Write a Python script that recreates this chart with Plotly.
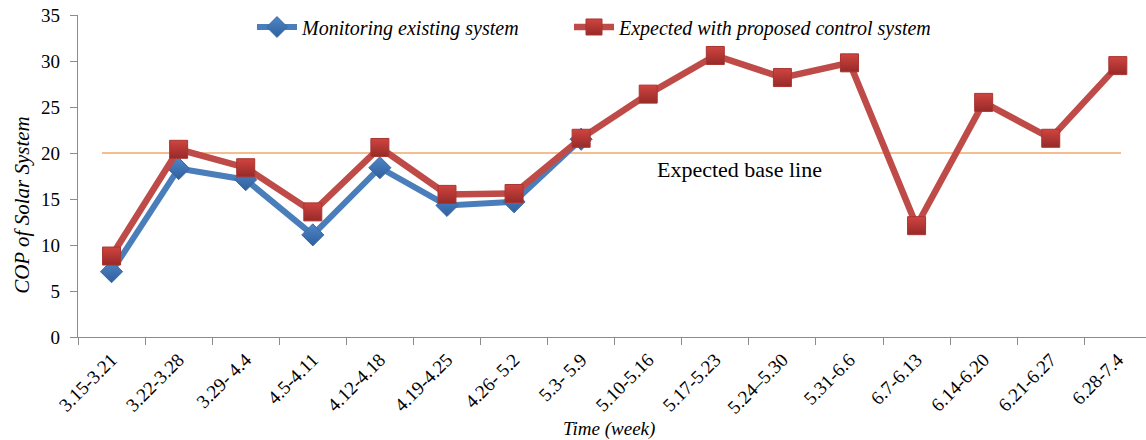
import plotly.graph_objects as go

# Weekly periods on the x axis
weeks = ["3.15-3.21", "3.22-3.28", "3.29- 4.4", "4.5-4.11", "4.12-4.18", "4.19-4.25",
         "4.26- 5.2", "5.3- 5.9", "5.10-5.16", "5.17-5.23", "5.24\u20135.30", "5.31-6.6",
         "6.7-6.13", "6.14-6.20", "6.21-6.27", "6.28-7.4"]

# COP of the existing system (monitored for the first eight weeks)
cop_existing = [7.1, 18.3, 17.1, 11.1, 18.4, 14.3, 14.7, 21.5]

# COP expected with the proposed control system
cop_proposed = [8.8, 20.4, 18.4, 13.6, 20.6, 15.5, 15.6, 21.6,
                26.4, 30.6, 28.2, 29.8, 12.1, 25.5, 21.6, 29.5]

base_line = 20

FONT = "Liberation Serif"
BLUE = "#4A7EBB"
RED = "#BE4B48"

PLOT_L, PLOT_R = 78, 1146
PLOT_T, PLOT_B = 15, 337.3


def px_x(px):
    return (px - PLOT_L) / (PLOT_R - PLOT_L)


def px_y(py):
    return (PLOT_B - py) / (PLOT_B - PLOT_T)


fig = go.Figure()

fig.add_trace(go.Scatter(
    x=weeks[:len(cop_existing)], y=cop_existing,
    name="Monitoring existing system",
    mode="lines+markers",
    line=dict(color=BLUE, width=6),
    marker=dict(symbol="diamond", size=17, color="#4F86C6",
                line=dict(color="#3A6AA8", width=1),
                gradient=dict(type="vertical", color="#2F5F9E")),
    legend="legend",
))

fig.add_trace(go.Scatter(
    x=weeks, y=cop_proposed,
    name="Expected with proposed control system",
    mode="lines+markers",
    line=dict(color=RED, width=6.5),
    marker=dict(symbol="square", size=18, color="#D04440",
                line=dict(color="#A83532", width=1),
                gradient=dict(type="vertical", color="#962A28")),
    legend="legend2",
))

# Expected base line across the plot
fig.add_shape(type="line", xref="paper", yref="y",
              x0=px_x(102), x1=px_x(1121), y0=base_line, y1=base_line,
              line=dict(color="#F6BE8E", width=2), layer="below")

fig.add_annotation(text="Expected base line", xref="paper", yref="y",
                   x=px_x(739), y=18.2, xanchor="center", showarrow=False,
                   font=dict(family=FONT, size=22, color="#000000"))

# Axis titles
fig.add_annotation(text="<i>Time (week)</i>", xref="paper", yref="paper",
                   x=px_x(609), y=0, yshift=-79, xanchor="center",
                   showarrow=False, yanchor="top",
                   font=dict(family=FONT, size=19, color="#000000"))
fig.add_annotation(text="<i>COP of Solar System</i>", xref="paper", yref="paper",
                   x=px_x(22), y=px_y(205), textangle=-90,
                   xanchor="center", yanchor="middle", showarrow=False,
                   font=dict(family=FONT, size=21, color="#000000"))

fig.update_xaxes(
    type="category", range=[-0.5, 15.42],
    showline=True, linecolor="#8C8C8C", linewidth=1.3,
    ticks="outside", ticklen=7, tickcolor="#8C8C8C", tickson="boundaries",
    ticklabelstandoff=3,
    tickangle=-45, showgrid=False, zeroline=False,
    tickfont=dict(family=FONT, size=19, color="#000000"),
)
fig.update_yaxes(
    range=[0, 35], dtick=5,
    showline=True, linecolor="#8C8C8C", linewidth=1.3,
    ticks="outside", ticklen=7, tickcolor="#8C8C8C", ticklabelstandoff=6,
    showgrid=False, zeroline=False,
    tickfont=dict(family=FONT, size=19, color="#000000"),
)

legend_style = dict(orientation="h", xanchor="left", yanchor="middle",
                    itemwidth=40, bgcolor="rgba(0,0,0,0)",
                    font=dict(family=FONT, size=20, color="#000000", style="italic"))

fig.update_layout(
    width=1146, height=440,
    margin=dict(l=PLOT_L, r=0, t=PLOT_T, b=440 - PLOT_B),
    plot_bgcolor="white", paper_bgcolor="white",
    font=dict(family=FONT),
    showlegend=True,
    legend=dict(x=px_x(252), y=px_y(27), **legend_style),
    legend2=dict(x=px_x(569), y=px_y(27), **legend_style),
)

fig.write_html("out.html")
